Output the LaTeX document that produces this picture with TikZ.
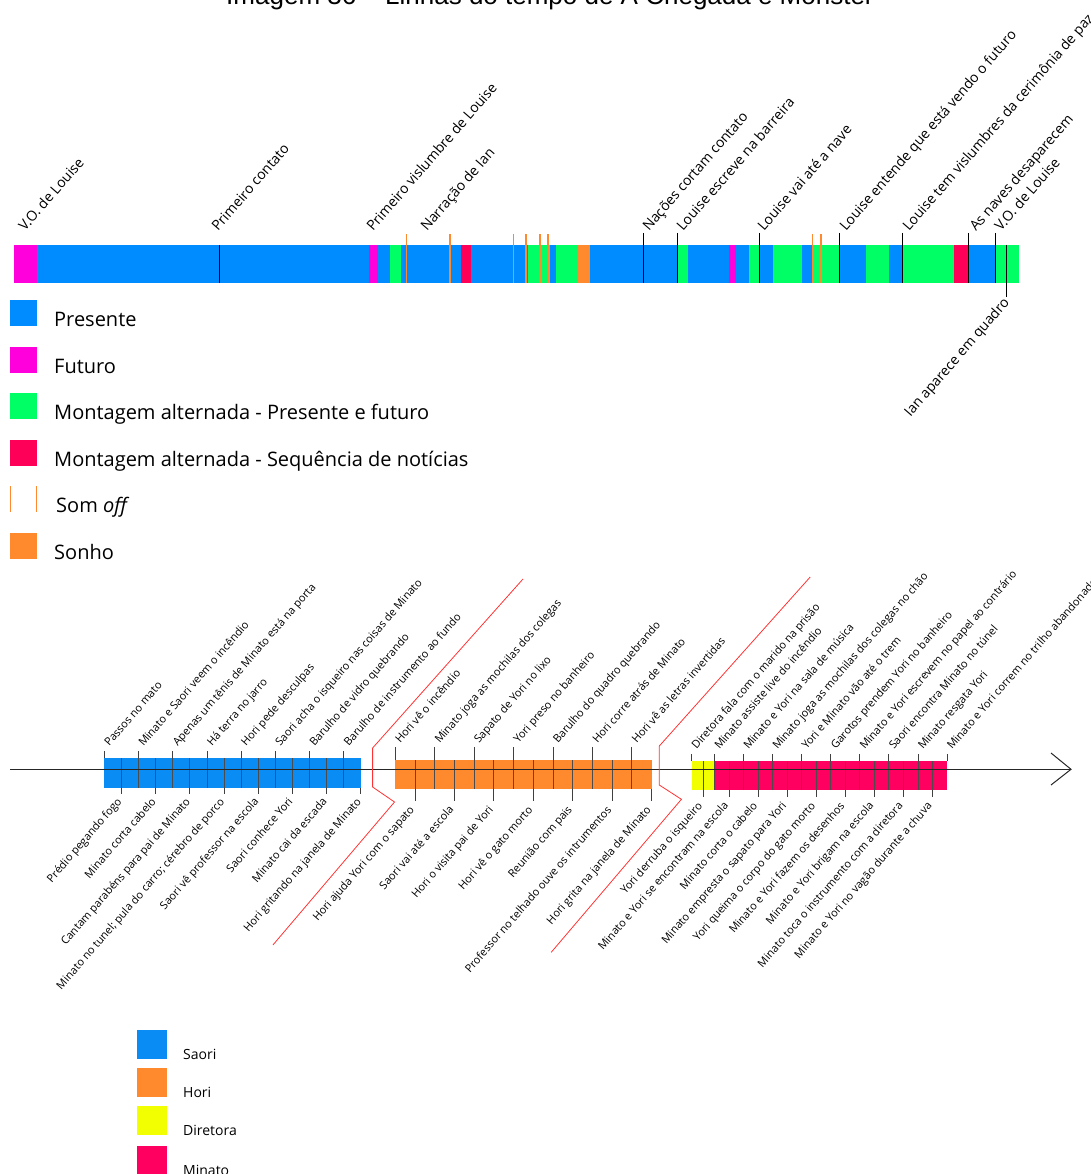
\documentclass[tikz,border=0pt]{standalone}
\usepackage{fontspec}
\setmainfont{Open Sans}
\newfontfamily\titlefont{Liberation Sans}
\usepackage{tikz}

\definecolor{presente}{HTML}{008CFF}
\definecolor{futuro}{HTML}{FF00DC}
\definecolor{mont}{HTML}{00FF64}
\definecolor{noticia}{HTML}{FF0059}
\definecolor{sonho}{HTML}{FF8A2E}
\definecolor{saori}{HTML}{0A8CF5}
\definecolor{hori}{HTML}{FF8A2E}
\definecolor{diretora}{HTML}{F2FF00}
\definecolor{minato}{HTML}{FF0060}

\begin{document}
\begin{tikzpicture}[x=1pt, y=-1pt,
  toplbl/.style={anchor=base west, rotate=49, inner sep=0pt, font=\fontsize{14}{14}\selectfont},
  uplbl/.style={anchor=base west, rotate=49, inner sep=0pt, font=\fontsize{11}{11}\selectfont},
  lowlbl/.style={anchor=base east, rotate=49, inner sep=0pt, font=\fontsize{11}{11}\selectfont},
  legtxt/.style={anchor=base west, inner sep=0pt, font=\fontsize{20}{20}\selectfont},
  keytxt/.style={anchor=base west, inner sep=0pt, font=\fontsize{14}{14}\selectfont},
  cellln/.style={black!70, line width=0.8pt},
  tickln/.style={black!75, line width=0.8pt},
  sepln/.style={red!80, line width=0.8pt}]
\useasboundingbox (0,0) rectangle (1090,1174);

% title (cut at the top)
\node[anchor=base, inner sep=0pt, font=\titlefont\fontsize{26}{26}\selectfont] (title) at (550,5) {Imagem 36 – Linhas do tempo de A Chegada e Monster};

% upper timeline: Arrival
\foreach \a/\b/\c in {13.6/36.8/futuro, 36.8/369/presente, 369/377.5/futuro, 377.5/389.6/presente,
  389.6/401/mont, 401/460.7/presente, 460.7/471.4/noticia, 471.4/527.9/presente, 527.9/549.8/mont,
  549.8/556/presente, 556/576.8/mont, 576.8/590/sonho, 590/677.5/presente, 677.5/688/mont,
  688/728.8/presente, 728.8/735.8/futuro, 735.8/748.8/presente, 748.8/759.3/mont, 759.3/773/presente,
  773/802/mont, 802/812.6/presente, 812.6/839.3/mont, 839.3/865.6/presente, 865.6/889/mont,
  889/902.5/presente, 902.5/954/mont, 954/968.6/noticia, 968.6/995.4/presente, 995.4/1019/mont}
  \fill[\c] (\a,245) rectangle (\b,283);
\foreach \x in {406.4, 450, 513.6, 526, 540, 548, 812.6, 820.7}
  \draw[sonho, line width=1.6pt] (\x,234) -- (\x,283);
\foreach \x in {643.9, 677.5, 759.3, 839.3, 902.5, 968.6, 995.4}
  \draw[line width=1pt] (\x,233) -- (\x,283);
\draw[line width=1pt] (219,245) -- (219,283);
\draw[line width=1pt] (1006.7,245) -- (1006.7,297) coordinate (ianend);

\foreach \x/\n/\txt in {19/vo/V.O. de Louise, 212/contato/Primeiro contato,
  367/vislumbre/Primeiro vislumbre de Louise, 421/narracao/Narração de Ian,
  643/nacoes/Nações cortam contato, 677/barreira/Louise escreve na barreira,
  758/nave/Louise vai até a nave, 840/entende/Louise entende que está vendo o futuro,
  903/cerimonia/Louise tem vislumbres da cerimônia de paz, 970/naves/As naves desaparecem,
  995/vofim/V.O. de Louise}
  \node[toplbl] (\n) at (\x+6,232) {\txt};
\node[toplbl, anchor=base east] (ian) at (1010,303) {Ian aparece em quadro};

% legend of the upper timeline
\foreach \y/\c/\n/\txt in {326/presente/lpres/Presente, 373/futuro/lfut/Futuro,
  419/mont/lmont/{Montagem alternada - Presente e futuro},
  466/noticia/lnot/{Montagem alternada - Sequência de notícias}, 559/sonho/lsonho/Sonho}{
  \fill[\c] (10,\y-26.5) rectangle (37,\y);
  \node[legtxt] (\n) at (54,\y) {\txt};
}
\draw[sonho, line width=1.2pt] (10.5,486) -- (10.5,512) (36.5,486) -- (36.5,512);
\node[legtxt] (lsom) at (56,512) {Som \textit{off}};

% lower timeline: Monster
\fill[saori] (104.3,758) rectangle (360.8,788);
\foreach \k in {1,...,14} \draw[cellln] ({104.3+\k*17.1},758) -- ({104.3+\k*17.1},788);
\fill[hori] (395.2,760) rectangle (651.6,789);
\foreach \k in {1,...,12} \draw[cellln] ({395.2+\k*19.72},760) -- ({395.2+\k*19.72},789);
\fill[diretora] (691.6,761) rectangle (714.4,790);
\draw[cellln] (703,761) -- (703,790);
\fill[minato] (714.4,761) rectangle (947,790);
\foreach \k in {0,...,15} \draw[cellln] ({714.4+\k*14.54},761) -- ({714.4+\k*14.54},790);

% Saori
\foreach \k/\txt in {0/Passos no mato, 2/Minato e Saori veem o incêndio,
  4/Apenas um tênis de Minato está na porta, 6/Há terra no jarro, 8/Hori pede desculpas,
  10/Saori acha o isqueiro nas coisas de Minato, 12/Barulho de vidro quebrando,
  14/Barulho de instrumento ao fundo}{
  \draw[tickln] ({104.3+\k*17.1},751) -- ({104.3+\k*17.1},758);
  \node[uplbl] (su\k) at ({104.3+\k*17.1+5},747) {\txt};
}
\foreach \k/\txt in {1/Prédio pegando fogo, 3/Minato corta cabelo,
  5/Cantam parabéns para pai de Minato, 7/Minato no tunel; pula do carro; cérebro de porco,
  9/Saori vê professor na escola, 11/Saori conhece Yori, 13/Minato cai da escada,
  15/Hori gritando na janela de Minato}{
  \draw[tickln] ({104.3+\k*17.1},788) -- ({104.3+\k*17.1},794);
  \node[lowlbl] (sl\k) at ({104.3+\k*17.1+1},802) {\txt};
}

% Hori
\foreach \k/\txt in {0/Hori vê o incêndio, 2/Minato joga as mochilas dos colegas,
  4/Sapato de Yori no lixo, 6/Yori preso no banheiro, 8/Barulho do quadro quebrando,
  10/Hori corre atrás de Minato, 12/Hori vê as letras invertidas}{
  \draw[tickln] ({395.2+\k*19.72},747) -- ({395.2+\k*19.72},760);
  \node[uplbl] (hu\k) at ({395.2+\k*19.72+5},744) {\txt};
}
\foreach \k/\txt in {1/Hori ajuda Yori com o sapato, 3/Saori vai até a escola,
  5/Hori o visita pai de Yori, 7/Hori vê o gato morto, 9/Reunião com pais,
  11/Professor no telhado ouve os intrumentos, 13/Hori grita na janela de Minato}{
  \draw[tickln] ({395.2+\k*19.72},789) -- ({395.2+\k*19.72},801);
  \node[lowlbl] (hl\k) at ({395.2+\k*19.72},810) {\txt};
}

% Diretora and Minato
\draw[tickln] (691.6,754) -- (691.6,761);
\node[uplbl] (du) at (696.6,750) {Diretora fala com o marido na prisão};
\draw[tickln] (703,790) -- (703,797);
\node[lowlbl] (dl) at (703,806) {Yori derruba o isqueiro};
\foreach \k/\txt in {0/Minato assiste live do incêndio, 2/Minato e Yori na sala de música,
  4/Minato joga as mochilas dos colegas no chão, 6/Yori e Minato vão até o trem,
  8/Garotos prendem Yori no banheiro, 10/Minato e Yori escrevem no papel ao contrário,
  12/Saori encontra Minato no túnel, 14/Minato resgata Yori,
  16/Minato e Yori correm no trilho abandonado}{
  \draw[tickln] ({714.4+\k*14.54},754) -- ({714.4+\k*14.54},761);
  \node[uplbl] (mu\k) at ({714.4+\k*14.54+5},750) {\txt};
}
\foreach \k/\txt in {1/Minato e Yori se encontram na escola, 3/Minato corta o cabelo,
  5/Minato empresta o sapato para Yori, 7/Yori queima o corpo do gato morto,
  9/Minato e Yori fazem os desenhos, 11/Minato e Yori brigam na escola,
  13/Minato toca o instrumento com a diretora, 15/Minato e Yori no vagão durante a chuva}{
  \draw[tickln] ({714.4+\k*14.54},790) -- ({714.4+\k*14.54},797);
  \node[lowlbl] (ml\k) at ({714.4+\k*14.54},806) {\txt};
}

% axis
\coordinate (axstart) at (10,769.3);
\coordinate (axtip) at (1071,769.3);
\draw[black!85, line width=1pt] (axstart) -- (axtip);
\draw[black!85, line width=1pt] (1051,753) -- (axtip) -- (1051,785);

% separators
\draw[sepln] (523,579) -- (372.6,748) -- (372.6,787) -- (394.5,802) -- (272.9,945);
\draw[sepln] (810.2,577) -- (659.3,746) -- (659.3,785) -- (681.4,799.3) -- (551.2,952.3);

% legend of the lower timeline
\foreach \y/\c/\n/\txt in {1059/saori/ksaori/Saori, 1097/hori/khori/Hori,
  1135/diretora/kdir/Diretora, 1175/minato/kmin/Minato}{
  \fill[\c] (137,\y-29) rectangle (167,\y);
  \node[keytxt] (\n) at (183,\y) {\txt};
}
\end{tikzpicture}
\end{document}
